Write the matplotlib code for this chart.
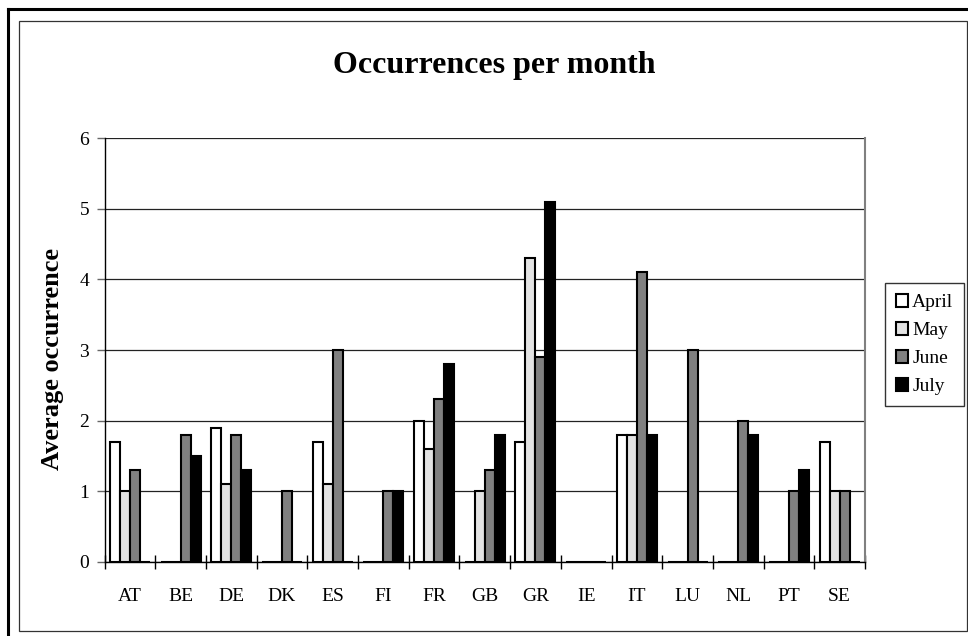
import matplotlib
matplotlib.use('Agg')
import matplotlib.pyplot as plt
from matplotlib.patches import Rectangle
from matplotlib.lines import Line2D
import numpy as np

countries = ['AT', 'BE', 'DE', 'DK', 'ES', 'FI', 'FR', 'GB', 'GR', 'IE', 'IT', 'LU', 'NL', 'PT', 'SE']
april = [1.7, 0, 1.9, 0, 1.7, 0, 2.0, 0, 1.7, 0, 1.8, 0, 0, 0, 1.7]
may   = [1.0, 0, 1.1, 0, 1.1, 0, 1.6, 1.0, 4.3, 0, 1.8, 0, 0, 0, 1.0]
june  = [1.3, 1.8, 1.8, 1.0, 3.0, 1.0, 2.3, 1.3, 2.9, 0, 4.1, 3.0, 2.0, 1.0, 1.0]
july  = [0, 1.5, 1.3, 0, 0, 1.0, 2.8, 1.8, 5.1, 0, 1.8, 0, 1.8, 1.3, 0]
series_names = ['April', 'May', 'June', 'July']
y_ticks = [0, 1, 2, 3, 4, 5, 6]
title = 'Occurrences per month'
ylabel = 'Average occurrence'

colors = ['#ffffff', '#e3e3e3', '#808080', '#000000']

plt.rcParams['font.family'] = ['Liberation Serif', 'DejaVu Serif']

W, H = 968, 636
fig = plt.figure(figsize=(W / 100, H / 100), dpi=100)
fig.patch.set_facecolor('white')

def fx(px):
    return px / W

def fy(py):
    return 1 - py / H

ax = fig.add_axes([fx(104.5), fy(562), fx(865) - fx(104.5), fy(138) - fy(562)])

x = np.arange(len(countries))
w = 0.197
for i, (vals, col, lab) in enumerate(zip([april, may, june, july], colors, series_names)):
    ax.bar(x + (i - 1.5) * w, vals, w, color=col, edgecolor='black',
           linewidth=1.5, label=lab, zorder=3)

ax.set_xlim(-0.5, len(countries) - 0.5)
ax.set_ylim(0, 6)
ax.set_yticks(y_ticks)
ax.set_yticklabels([str(t) for t in y_ticks])
ax.set_xticks(x)
ax.set_xticklabels(countries)
ax.set_xticks(np.arange(-0.5, len(countries), 1), minor=True)

ax.set_axisbelow(True)
ax.yaxis.grid(True, color='#222222', linewidth=0.9)
ax.xaxis.grid(False)

ax.spines['top'].set_visible(False)
ax.spines['right'].set_color('#808080')
ax.spines['right'].set_linewidth(1.5)
ax.spines['left'].set_color('black')
ax.spines['left'].set_linewidth(1.0)
ax.spines['bottom'].set_color('black')
ax.spines['bottom'].set_linewidth(1.0)
ax.spines['bottom'].set_zorder(4)

ax.tick_params(axis='x', which='major', length=0, pad=19, labelsize=14, labelcolor='black')
ax.tick_params(axis='x', which='minor', direction='inout', length=10, width=1, color='black')
ax.tick_params(axis='y', which='major', direction='out', length=6, width=1,
               color='#666666', pad=5, labelsize=14, labelcolor='black')

fig.text(fx(494), fy(65), title, ha='center', va='center', fontsize=23, fontweight='bold')
fig.text(fx(53), fy(359), ylabel, ha='center', va='center', rotation=90,
         fontsize=19, fontweight='bold')

leg = fig.legend(loc='upper left', bbox_to_anchor=(fx(885), fy(283)), fontsize=14,
                 frameon=True, fancybox=False, shadow=False, edgecolor='black',
                 handlelength=0.65, handleheight=0.65, handletextpad=0.2,
                 labelspacing=0.55, borderpad=0.55, borderaxespad=0)
leg.get_frame().set_linewidth(1.0)

fig.add_artist(Line2D([fx(7.5), 1], [fy(8.5), fy(8.5)], color='black', linewidth=2.2,
                      transform=fig.transFigure))
fig.add_artist(Line2D([fx(7.5), fx(7.5)], [fy(8.5), 0], color='black', linewidth=2.2,
                      transform=fig.transFigure))
fig.add_artist(Rectangle((fx(18.5), fy(630.5)), fx(966.5) - fx(18.5), fy(20.5) - fy(630.5),
                         fill=False, edgecolor='#333333', linewidth=0.9,
                         transform=fig.transFigure))

fig.savefig('out.png', dpi=100)
